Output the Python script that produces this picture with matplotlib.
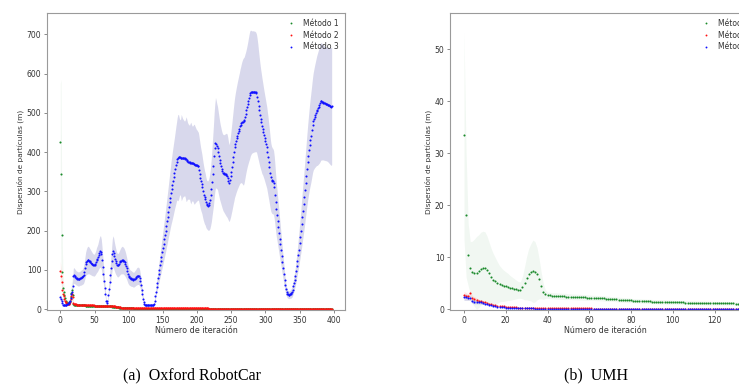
import numpy as np
import matplotlib
matplotlib.use("Agg")
import matplotlib.pyplot as plt

# ---------------- Data: Oxford RobotCar ----------------
ox_m3 = [30, 27, 22, 15, 12, 11, 11, 11, 12, 12,
         13, 14, 16, 18, 22, 28, 38, 45, 60, 84,
         86, 84, 82, 80, 79, 78, 77, 77, 78, 79,
         80, 81, 82, 84, 88, 95, 105, 115, 120, 123,
         125, 125, 124, 122, 120, 118, 116, 114, 113, 112,
         113, 116, 120, 125, 128, 132, 138, 143, 147, 146,
         140, 125, 108, 90, 72, 55, 38, 20, 15, 20,
         35, 52, 70, 88, 105, 122, 140, 147, 143, 135,
         128, 122, 117, 113, 112, 113, 116, 119, 122, 124,
         125, 125, 124, 122, 119, 115, 110, 104, 97, 90,
         85, 82, 80, 79, 78, 77, 76, 75, 76, 78,
         80, 82, 84, 85, 85, 84, 80, 72, 62, 50,
         38, 27, 18, 13, 11, 10, 10, 10, 10, 10,
         10, 10, 10, 10, 10, 10, 11, 14, 22, 33,
         45, 57, 68, 79, 90, 101, 112, 123, 134, 145,
         156, 167, 178, 189, 200, 212, 224, 236, 248, 260,
         272, 284, 296, 306, 316, 326, 336, 346, 356, 366,
         376, 383, 386, 387, 387, 387, 386, 386, 385, 385,
         385, 384, 384, 383, 382, 380, 378, 376, 375, 374,
         373, 372, 372, 371, 371, 370, 369, 368, 367, 366,
         366, 365, 364, 355, 345, 335, 327, 320, 310, 300,
         292, 285, 280, 272, 267, 265, 264, 266, 270, 278,
         290, 305, 325, 345, 365, 390, 410, 424, 420, 415,
         410, 400, 390, 380, 372, 365, 358, 352, 348, 346,
         345, 344, 343, 342, 340, 334, 326, 321, 328, 338,
         350, 362, 375, 388, 400, 412, 420, 428, 435, 442,
         448, 454, 460, 466, 470, 474, 476, 477, 478, 482,
         490, 498, 506, 514, 522, 530, 538, 545, 550, 552,
         553, 553, 554, 554, 554, 554, 553, 550, 541, 530,
         518, 506, 495, 485, 476, 467, 460, 452, 444, 436,
         428, 420, 412, 400, 388, 375, 362, 348, 336, 330,
         327, 326, 322, 310, 292, 272, 254, 240, 225, 210,
         195, 180, 165, 150, 135, 120, 105, 90, 75, 62,
         52, 45, 40, 38, 37, 37, 38, 39, 41, 44,
         50, 58, 66, 75, 85, 98, 111, 124, 138, 152,
         168, 184, 200, 217, 234, 251, 268, 285, 304, 322,
         340, 358, 375, 390, 405, 418, 430, 442, 455, 468,
         478, 484, 490, 495, 500, 505, 508, 512, 516, 520,
         525, 529, 529, 528, 527, 526, 525, 524, 523, 523,
         522, 521, 520, 519, 518, 517, 516, 518]

ox_m3_std = [8, 7, 6, 4, 3, 3, 3, 3, 3, 3,
             4, 4, 4, 5, 6, 7, 10, 12, 15, 20,
             20, 19, 19, 18, 18, 18, 18, 18, 18, 18,
             19, 19, 19, 20, 22, 24, 27, 30, 32, 34,
             35, 35, 34, 33, 32, 31, 30, 29, 28, 28,
             28, 29, 30, 32, 33, 34, 36, 38, 40, 40,
             38, 34, 30, 25, 20, 15, 10, 6, 4, 5,
             9, 13, 18, 23, 28, 33, 38, 40, 39, 37,
             35, 33, 31, 30, 30, 30, 31, 32, 33, 34,
             35, 35, 34, 34, 33, 32, 30, 28, 26, 24,
             22, 21, 20, 20, 20, 19, 19, 19, 19, 20,
             20, 21, 22, 22, 22, 22, 21, 19, 16, 13,
             10, 7, 5, 4, 3, 3, 3, 3, 3, 3,
             3, 3, 3, 3, 3, 3, 3, 4, 6, 9,
             12, 15, 18, 21, 24, 27, 30, 33, 36, 39,
             42, 45, 48, 51, 54, 57, 60, 63, 66, 70,
             73, 76, 80, 83, 86, 88, 90, 92, 95, 98,
             100, 105, 110, 108, 100, 95, 98, 110, 105, 100,
             98, 96, 95, 100, 108, 104, 98, 96, 95, 94,
             100, 104, 98, 95, 96, 100, 102, 98, 95, 92,
             90, 88, 86, 84, 82, 80, 78, 76, 74, 72,
             70, 68, 66, 64, 62, 62, 63, 65, 68, 72,
             76, 82, 88, 95, 102, 108, 112, 115, 112, 108,
             106, 104, 102, 100, 98, 97, 96, 96, 97, 98,
             100, 102, 104, 106, 106, 104, 100, 98, 100, 104,
             108, 112, 116, 120, 124, 127, 130, 132, 134, 136,
             138, 140, 142, 145, 148, 152, 156, 160, 162, 160,
             158, 156, 155, 155, 156, 158, 160, 162, 160, 158,
             156, 155, 155, 154, 154, 153, 152, 150, 148, 145,
             140, 136, 132, 128, 125, 122, 118, 115, 112, 110,
             108, 106, 104, 102, 100, 97, 94, 90, 87, 85,
             84, 83, 82, 80, 77, 73, 69, 65, 61, 57,
             53, 49, 45, 41, 37, 33, 29, 25, 21, 17,
             14, 12, 11, 10, 10, 10, 10, 11, 12, 13,
             15, 17, 19, 21, 24, 27, 30, 34, 38, 42,
             46, 50, 55, 60, 64, 68, 72, 76, 80, 84,
             88, 92, 96, 100, 104, 108, 112, 115, 118, 121,
             124, 127, 130, 133, 136, 139, 142, 144, 146, 148,
             150, 150, 149, 148, 147, 146, 146, 145, 145, 145,
             145, 145, 146, 147, 148, 149, 150, 150]

ox_m2 = [97, 85, 70, 50, 40, 33, 27, 22, 18, 16,
         14, 13, 13, 14, 18, 25, 33, 40, 30, 15,
         13, 12.5, 12.3, 12.1, 12, 11.8, 11.6, 11.5, 11.3, 11.2,
         11.1, 11, 10.9, 10.8, 10.7, 10.6, 10.5, 10.4, 10.3, 10.2,
         10.1, 10, 10, 9.9, 9.8, 9.7, 9.7, 9.6, 9.5, 9.5,
         9.4, 9.3, 9.3, 9.2, 9.1, 9.1, 9, 9, 8.9, 8.9,
         8.8, 8.8, 8.7, 8.7, 8.6, 8.6, 8.5, 8.5, 8.4, 8.4,
         8.3, 8.3, 8.2, 8.2, 8.1, 8.0, 7.8, 7.6, 7.4, 7.2,
         7.0, 6.7, 6.4, 6.1, 5.8, 5.5, 5.2, 4.9, 4.6, 4.3,
         4.1, 3.9, 3.7, 3.6, 3.5, 3.4, 3.3, 3.2, 3.2, 3.1,
         3.1, 3.0, 3.0, 3.0, 3.0, 2.9, 2.9, 2.9, 2.9, 2.9,
         2.9, 2.8, 2.8, 2.8, 2.8, 2.8, 2.8, 2.8, 2.7, 2.7,
         2.7, 2.7, 2.7, 2.7, 2.7, 2.7, 2.6, 2.6, 2.6, 2.6,
         2.6, 2.6, 2.6, 2.6, 2.5, 2.5, 2.5, 2.5, 2.5, 2.5,
         2.5, 2.5, 2.5, 2.4, 2.4, 2.4, 2.4, 2.4, 2.4, 2.4,
         2.4, 2.4, 2.4, 2.3, 2.3, 2.3, 2.3, 2.3, 2.3, 2.3,
         2.3, 2.3, 2.3, 2.3, 2.2, 2.2, 2.2, 2.2, 2.2, 2.2,
         2.2, 2.2, 2.2, 2.2, 2.2, 2.1, 2.1, 2.1, 2.1, 2.1,
         2.1, 2.1, 2.1, 2.1, 2.1, 2.1, 2.1, 2.0, 2.0, 2.0,
         2.0, 2.0, 2.0, 2.0, 2.0, 2.0, 2.0, 2.0, 2.0, 2.0,
         2.0, 1.9, 1.9, 1.9, 1.9, 1.9, 1.9, 1.9, 1.9, 1.9,
         1.9, 1.9, 1.9, 1.9, 1.9, 1.9, 1.9, 1.8, 1.8, 1.8,
         1.8, 1.8, 1.8, 1.8, 1.8, 1.8, 1.8, 1.8, 1.8, 1.8,
         1.8, 1.8, 1.8, 1.8, 1.8, 1.7, 1.7, 1.7, 1.7, 1.7,
         1.7, 1.7, 1.7, 1.7, 1.7, 1.7, 1.7, 1.7, 1.7, 1.7,
         1.7, 1.7, 1.7, 1.7, 1.7, 1.7, 1.6, 1.6, 1.6, 1.6,
         1.6, 1.6, 1.6, 1.6, 1.6, 1.6, 1.6, 1.6, 1.6, 1.6,
         1.6, 1.6, 1.6, 1.6, 1.6, 1.6, 1.6, 1.6, 1.6, 1.5,
         1.5, 1.5, 1.5, 1.5, 1.5, 1.5, 1.5, 1.5, 1.5, 1.5,
         1.5, 1.5, 1.5, 1.5, 1.5, 1.5, 1.5, 1.5, 1.5, 1.5,
         1.5, 1.5, 1.5, 1.5, 1.5, 1.4, 1.4, 1.4, 1.4, 1.4,
         1.4, 1.4, 1.4, 1.4, 1.4, 1.4, 1.4, 1.4, 1.4, 1.4,
         1.4, 1.4, 1.4, 1.4, 1.4, 1.4, 1.4, 1.4, 1.4, 1.4,
         1.4, 1.3, 1.3, 1.3, 1.3, 1.3, 1.3, 1.3, 1.3, 1.3,
         1.3, 1.3, 1.3, 1.3, 1.3, 1.3, 1.3, 1.3, 1.3, 1.3,
         1.3, 1.3, 1.3, 1.3, 1.3, 1.3, 1.3, 1.3, 1.3, 1.2,
         1.2, 1.2, 1.2, 1.2, 1.2, 1.2, 1.2, 1.2, 1.2, 1.2,
         1.2, 1.2, 1.2, 1.2, 1.2, 1.2, 1.2, 1.2, 1.2, 1.2,
         1.2, 1.2, 1.2, 1.2, 1.2, 1.2, 1.2, 1.2, 1.2, 1.2,
         1.2, 1.2, 1.2, 1.1, 1.1, 1.1, 1.1, 1.1]

ox_m1 = [425, 345, 190, 95, 55, 45, 35, 28, 22, 18,
         16, 15, 15, 17, 22, 30, 42, 50, 35, 14,
         12, 11.5, 11.3, 11.1, 11, 10.8, 10.6, 10.5, 10.3, 10.2,
         10.1, 10, 9.9, 9.8, 9.7, 9.6, 9.5, 9.4, 9.3, 9.2,
         9.1, 9, 9, 8.9, 8.8, 8.7, 8.7, 8.6, 8.5, 8.5,
         8.4, 8.3, 8.3, 8.2, 8.1, 8.1, 8, 8, 7.9, 7.9,
         7.8, 7.8, 7.7, 7.7, 7.6, 7.6, 7.5, 7.5, 7.4, 7.4,
         7.3, 7.3, 7.2, 7.2, 7.1, 7.0, 6.8, 6.6, 6.4, 6.2,
         6.0, 5.7, 5.4, 5.1, 4.8, 4.5, 4.2, 3.9, 3.6, 3.3,
         3.1, 2.9, 2.7, 2.6, 2.5, 2.4, 2.3, 2.2, 2.2, 2.1,
         2.1, 2.0, 2.0, 2.0, 1.9, 1.9, 1.9, 1.9, 1.8, 1.8,
         1.8, 1.8, 1.7, 1.7, 1.7, 1.7, 1.6, 1.6, 1.6, 1.6,
         1.5, 1.5, 1.5, 1.5, 1.5, 1.4, 1.4, 1.4, 1.4, 1.4,
         1.3, 1.3, 1.3, 1.3, 1.3, 1.3, 1.2, 1.2, 1.2, 1.2,
         1.2, 1.2, 1.1, 1.1, 1.1, 1.1, 1.1, 1.1, 1.0, 1.0,
         1.0, 1.0, 1.0, 1.0, 1.0, 0.9, 0.9, 0.9, 0.9, 0.9,
         0.9, 0.9, 0.8, 0.8, 0.8, 0.8, 0.8, 0.8, 0.8, 0.8,
         0.7, 0.7, 0.7, 0.7, 0.7, 0.7, 0.7, 0.7, 0.7, 0.7,
         0.6, 0.6, 0.6, 0.6, 0.6, 0.6, 0.6, 0.6, 0.6, 0.6,
         0.6, 0.5, 0.5, 0.5, 0.5, 0.5, 0.5, 0.5, 0.5, 0.5,
         0.5, 0.5, 0.4, 0.4, 0.4, 0.4, 0.4, 0.4, 0.4, 0.4,
         0.4, 0.4, 0.4, 0.3, 0.3, 0.3, 0.3, 0.3, 0.3, 0.3,
         0.3, 0.3, 0.3, 0.3, 0.3, 0.3, 0.3, 0.3, 0.3, 0.3,
         0.3, 0.3, 0.3, 0.3, 0.3, 0.3, 0.3, 0.3, 0.3, 0.3,
         0.3, 0.3, 0.3, 0.3, 0.3, 0.3, 0.3, 0.3, 0.3, 0.3,
         0.3, 0.3, 0.3, 0.3, 0.3, 0.3, 0.3, 0.3, 0.3, 0.3,
         0.3, 0.3, 0.3, 0.3, 0.3, 0.3, 0.3, 0.3, 0.3, 0.3,
         0.3, 0.3, 0.3, 0.3, 0.3, 0.3, 0.3, 0.3, 0.3, 0.3,
         0.3, 0.3, 0.3, 0.3, 0.3, 0.3, 0.3, 0.3, 0.3, 0.3,
         0.3, 0.3, 0.3, 0.3, 0.3, 0.3, 0.3, 0.3, 0.3, 0.3,
         0.3, 0.3, 0.3, 0.3, 0.3, 0.3, 0.3, 0.3, 0.3, 0.3,
         0.3, 0.3, 0.3, 0.3, 0.3, 0.3, 0.3, 0.3, 0.3, 0.3,
         0.3, 0.3, 0.3, 0.3, 0.3, 0.3, 0.3, 0.3, 0.3, 0.3,
         0.3, 0.3, 0.3, 0.3, 0.3, 0.3, 0.3, 0.3, 0.3, 0.3,
         0.3, 0.3, 0.3, 0.3, 0.3, 0.3, 0.3, 0.3, 0.3, 0.3,
         0.3, 0.3, 0.3, 0.3, 0.3, 0.3, 0.3, 0.3, 0.3, 0.3,
         0.3, 0.3, 0.3, 0.3, 0.3, 0.3, 0.3, 0.3, 0.3, 0.3,
         0.3, 0.3, 0.3, 0.3, 0.3, 0.3, 0.3, 0.3, 0.3, 0.3,
         0.3, 0.3, 0.3, 0.3, 0.3, 0.3, 0.3, 0.3, 0.3, 0.3,
         0.3, 0.3, 0.3, 0.3, 0.3, 0.3, 0.3, 0.3]

# std of Metodo 1 / Metodo 2 only relevant at the very start
ox_m1_std_head = [150, 240, 120, 60, 30, 20, 14, 10, 8, 7,
                  6, 6, 6, 8, 12, 18, 25, 30, 20, 6]
ox_m2_std_head = [25, 20, 15, 10, 8, 6, 5, 4, 4, 3,
                  3, 3, 3, 4, 5, 7, 9, 10, 7, 3]

# ---------------- Data: UMH ----------------
umh_m1 = [33.6, 18.2, 10.5, 8.0, 7.1, 7.0, 7.0, 7.3, 7.8, 8.0,
          7.9, 7.6, 6.9, 6.2, 5.7, 5.4, 5.1, 4.9, 4.7, 4.5,
          4.4, 4.3, 4.1, 4.0, 3.9, 3.8, 3.7, 3.7, 4.2, 5.0,
          6.0, 6.7, 7.1, 7.3, 7.2, 6.8, 5.8, 4.5, 3.4, 2.9,
          2.7, 2.65, 2.6, 2.58, 2.55, 2.52, 2.5, 2.48, 2.46, 2.44,
          2.42, 2.40, 2.38, 2.36, 2.34, 2.32, 2.30, 2.28, 2.26, 2.24,
          2.22, 2.20, 2.18, 2.16, 2.14, 2.12, 2.10, 2.07, 2.04, 2.01,
          1.98, 1.95, 1.92, 1.89, 1.86, 1.83, 1.80, 1.77, 1.74, 1.71,
          1.68, 1.66, 1.64, 1.62, 1.60, 1.58, 1.56, 1.54, 1.52, 1.50,
          1.48, 1.46, 1.45, 1.44, 1.42, 1.41, 1.40, 1.38, 1.37, 1.36,
          1.35, 1.34, 1.33, 1.32, 1.31, 1.30, 1.29, 1.28, 1.27, 1.26,
          1.25, 1.24, 1.23, 1.22, 1.21, 1.20, 1.19, 1.18, 1.17, 1.16,
          1.15, 1.15, 1.14, 1.14, 1.13, 1.13, 1.12, 1.12, 1.11, 1.11,
          1.10, 1.10, 1.10, 1.09, 1.09]

umh_m1_std = [20, 12, 6, 5, 6, 6.5, 7, 7, 7, 7,
              7, 6.5, 6, 5.5, 5, 4.5, 4, 3.5, 3.2, 3,
              2.8, 2.6, 2.4, 2.2, 2.0, 1.8, 1.6, 1.6, 2.2, 3.2,
              4.2, 5, 5.5, 6, 5.8, 5, 3.8, 2.5, 1.5, 0.8,
              0.6, 0.6, 0.6, 0.6, 0.6, 0.6, 0.6, 0.6, 0.6, 0.6,
              0.55, 0.55, 0.55, 0.55, 0.55, 0.55, 0.55, 0.55, 0.55, 0.55,
              0.5, 0.5, 0.5, 0.5, 0.5, 0.5, 0.5, 0.5, 0.5, 0.5,
              0.45, 0.45, 0.45, 0.45, 0.45, 0.45, 0.45, 0.45, 0.45, 0.45,
              0.4, 0.4, 0.4, 0.4, 0.4, 0.4, 0.4, 0.4, 0.4, 0.4,
              0.4, 0.4, 0.4, 0.4, 0.4, 0.4, 0.4, 0.4, 0.4, 0.4,
              0.35, 0.35, 0.35, 0.35, 0.35, 0.35, 0.35, 0.35, 0.35, 0.35,
              0.35, 0.35, 0.35, 0.35, 0.35, 0.35, 0.35, 0.35, 0.35, 0.35,
              0.3, 0.3, 0.3, 0.3, 0.3, 0.3, 0.3, 0.3, 0.3, 0.3,
              0.3, 0.3, 0.3, 0.3, 0.3]

umh_m2 = [2.8, 2.6, 2.5, 3.1, 2.2, 2.0, 1.8, 1.65, 1.5, 1.4,
          1.3, 1.2, 1.1, 1.0, 0.9, 0.8, 0.7, 0.65, 0.6, 0.55,
          0.5, 0.45, 0.42, 0.4, 0.37, 0.35, 0.33, 0.31, 0.3, 0.28,
          0.27, 0.26, 0.25, 0.24, 0.23, 0.22, 0.21, 0.2, 0.2, 0.19,
          0.19, 0.18, 0.18, 0.18, 0.17, 0.17, 0.17, 0.16, 0.16, 0.16,
          0.16, 0.15, 0.15, 0.15, 0.15, 0.15, 0.14, 0.14, 0.14, 0.14,
          0.14, 0.14, 0.13, 0.13, 0.13, 0.13, 0.13, 0.13, 0.13, 0.12,
          0.12, 0.12, 0.12, 0.12, 0.12, 0.12, 0.12, 0.12, 0.11, 0.11,
          0.11, 0.11, 0.11, 0.11, 0.11, 0.11, 0.11, 0.11, 0.11, 0.11,
          0.1, 0.1, 0.1, 0.1, 0.1, 0.1, 0.1, 0.1, 0.1, 0.1,
          0.1, 0.1, 0.1, 0.1, 0.1, 0.1, 0.1, 0.1, 0.1, 0.1,
          0.1, 0.1, 0.1, 0.1, 0.1, 0.1, 0.1, 0.1, 0.1, 0.1,
          0.1, 0.1, 0.1, 0.1, 0.1, 0.1, 0.1, 0.1, 0.1, 0.1,
          0.1, 0.1, 0.1, 0.1, 0.1]

umh_m3 = [2.3, 2.3, 2.2, 2.2, 1.5, 1.45, 1.4, 1.35, 1.3, 1.2,
          1.1, 1.0, 0.9, 0.8, 0.7, 0.6, 0.5, 0.45, 0.4, 0.35,
          0.3, 0.28, 0.26, 0.24, 0.22, 0.2, 0.19, 0.18, 0.17, 0.16,
          0.15, 0.15, 0.14, 0.14, 0.13, 0.13, 0.12, 0.12, 0.11, 0.11,
          0.1, 0.1, 0.1, 0.1, 0.1, 0.1, 0.09, 0.09, 0.09, 0.09,
          0.09, 0.09, 0.08, 0.08, 0.08, 0.08, 0.08, 0.08, 0.08, 0.08,
          0.07, 0.07, 0.07, 0.07, 0.07, 0.07, 0.07, 0.07, 0.07, 0.07,
          0.07, 0.07, 0.06, 0.06, 0.06, 0.06, 0.06, 0.06, 0.06, 0.06,
          0.06, 0.06, 0.06, 0.06, 0.06, 0.06, 0.06, 0.06, 0.06, 0.06,
          0.05, 0.05, 0.05, 0.05, 0.05, 0.05, 0.05, 0.05, 0.05, 0.05,
          0.05, 0.05, 0.05, 0.05, 0.05, 0.05, 0.05, 0.05, 0.05, 0.05,
          0.05, 0.05, 0.05, 0.05, 0.05, 0.05, 0.05, 0.05, 0.05, 0.05,
          0.05, 0.05, 0.05, 0.05, 0.05, 0.05, 0.05, 0.05, 0.05, 0.05,
          0.05, 0.05, 0.05, 0.05, 0.05]

umh_small_std_head = [0.6, 0.6, 0.5, 0.5, 0.4, 0.4, 0.35, 0.3, 0.3, 0.25]

legend_labels = ["Método 1", "Método 2", "Método 3"]
colors = ["#1a8a2a", "#ff1010", "#1010ff"]
band_colors = ["#3a9a4a", "#ff4040", "#4040a0"]
band_alphas = [0.07, 0.12, 0.2]
xlabel = "Número de iteración"
ylabel = "Dispersión de partículas (m)"
captions = ["(a)  Oxford RobotCar", "(b)  UMH"]

# ---------------- Figure ----------------
W, H = 739, 385
fig = plt.figure(figsize=(W / 100, H / 100), dpi=100)

def pad(head, n):
    arr = np.zeros(n)
    arr[:len(head)] = head
    return arr

def style_axes(ax):
    for s in ax.spines.values():
        s.set_color("#9a9a9a")
        s.set_linewidth(0.8)
    ax.tick_params(labelsize=5.5, length=2.5, width=0.6, color="#777777",
                   labelcolor="#333333", pad=1.5)
    ax.set_xlabel(xlabel, fontsize=5.8, color="#333333", labelpad=1)
    ax.set_ylabel(ylabel, fontsize=5.3, color="#333333", labelpad=2)

def draw(ax, series, stds):
    for i, (y, s) in enumerate(zip(series, stds)):
        y = np.asarray(y, float)
        x = np.arange(len(y))
        ax.fill_between(x, y - s, y + s, color=band_colors[i], alpha=band_alphas[i],
                        linewidth=0)
    for i, y in enumerate(series):
        y = np.asarray(y, float)
        x = np.arange(len(y))
        ax.plot(x, y, linestyle="none", marker=".", markersize=3.0,
                markeredgewidth=0, color=colors[i], label=legend_labels[i],
                clip_on=True)

# Left: Oxford RobotCar
ax1 = fig.add_axes([47 / W, 1 - 310 / H, (345 - 47) / W, (310 - 13) / H])
draw(ax1, [ox_m1, ox_m2, ox_m3],
     [pad(ox_m1_std_head, len(ox_m1)), pad(ox_m2_std_head, len(ox_m2)),
      np.asarray(ox_m3_std, float)])
ax1.set_xlim(-19.5, 416.5)
ax1.set_ylim(-2, 754)
ax1.set_xticks(np.arange(0, 401, 50))
ax1.set_yticks(np.arange(0, 701, 100))
style_axes(ax1)
leg1 = ax1.legend(loc="upper right", fontsize=5.5, frameon=False,
                  markerscale=0.9, handlelength=1.5, handletextpad=0.8,
                  borderaxespad=0.4, labelspacing=0.35)
for t in leg1.get_texts():
    t.set_color("#333333")

# Right: UMH (axes extends past figure edge, as in the cropped reference)
ax2 = fig.add_axes([450 / W, 1 - 310 / H, (760 - 450) / W, (310 - 13) / H])
draw(ax2, [umh_m1, umh_m2, umh_m3],
     [np.asarray(umh_m1_std, float), pad(umh_small_std_head, len(umh_m2)),
      pad(umh_small_std_head, len(umh_m3))])
ax2.set_xlim(-6.7, 141.7)
ax2.set_ylim(-0.15, 57)
ax2.set_xticks(np.arange(0, 141, 20))
ax2.set_yticks(np.arange(0, 51, 10))
style_axes(ax2)
leg2 = ax2.legend(loc="upper right", fontsize=5.5, frameon=False,
                  markerscale=0.9, handlelength=1.5, handletextpad=0.8,
                  borderaxespad=0.4, labelspacing=0.35)
for t in leg2.get_texts():
    t.set_color("#333333")

fig.text(192 / W, 1 - 375 / H, captions[0], ha="center", va="center",
         fontsize=11.5, family=["Liberation Serif", "DejaVu Serif"])
fig.text(596 / W, 1 - 375 / H, captions[1], ha="center", va="center",
         fontsize=11.5, family=["Liberation Serif", "DejaVu Serif"])

fig.savefig("out.png", dpi=100)
